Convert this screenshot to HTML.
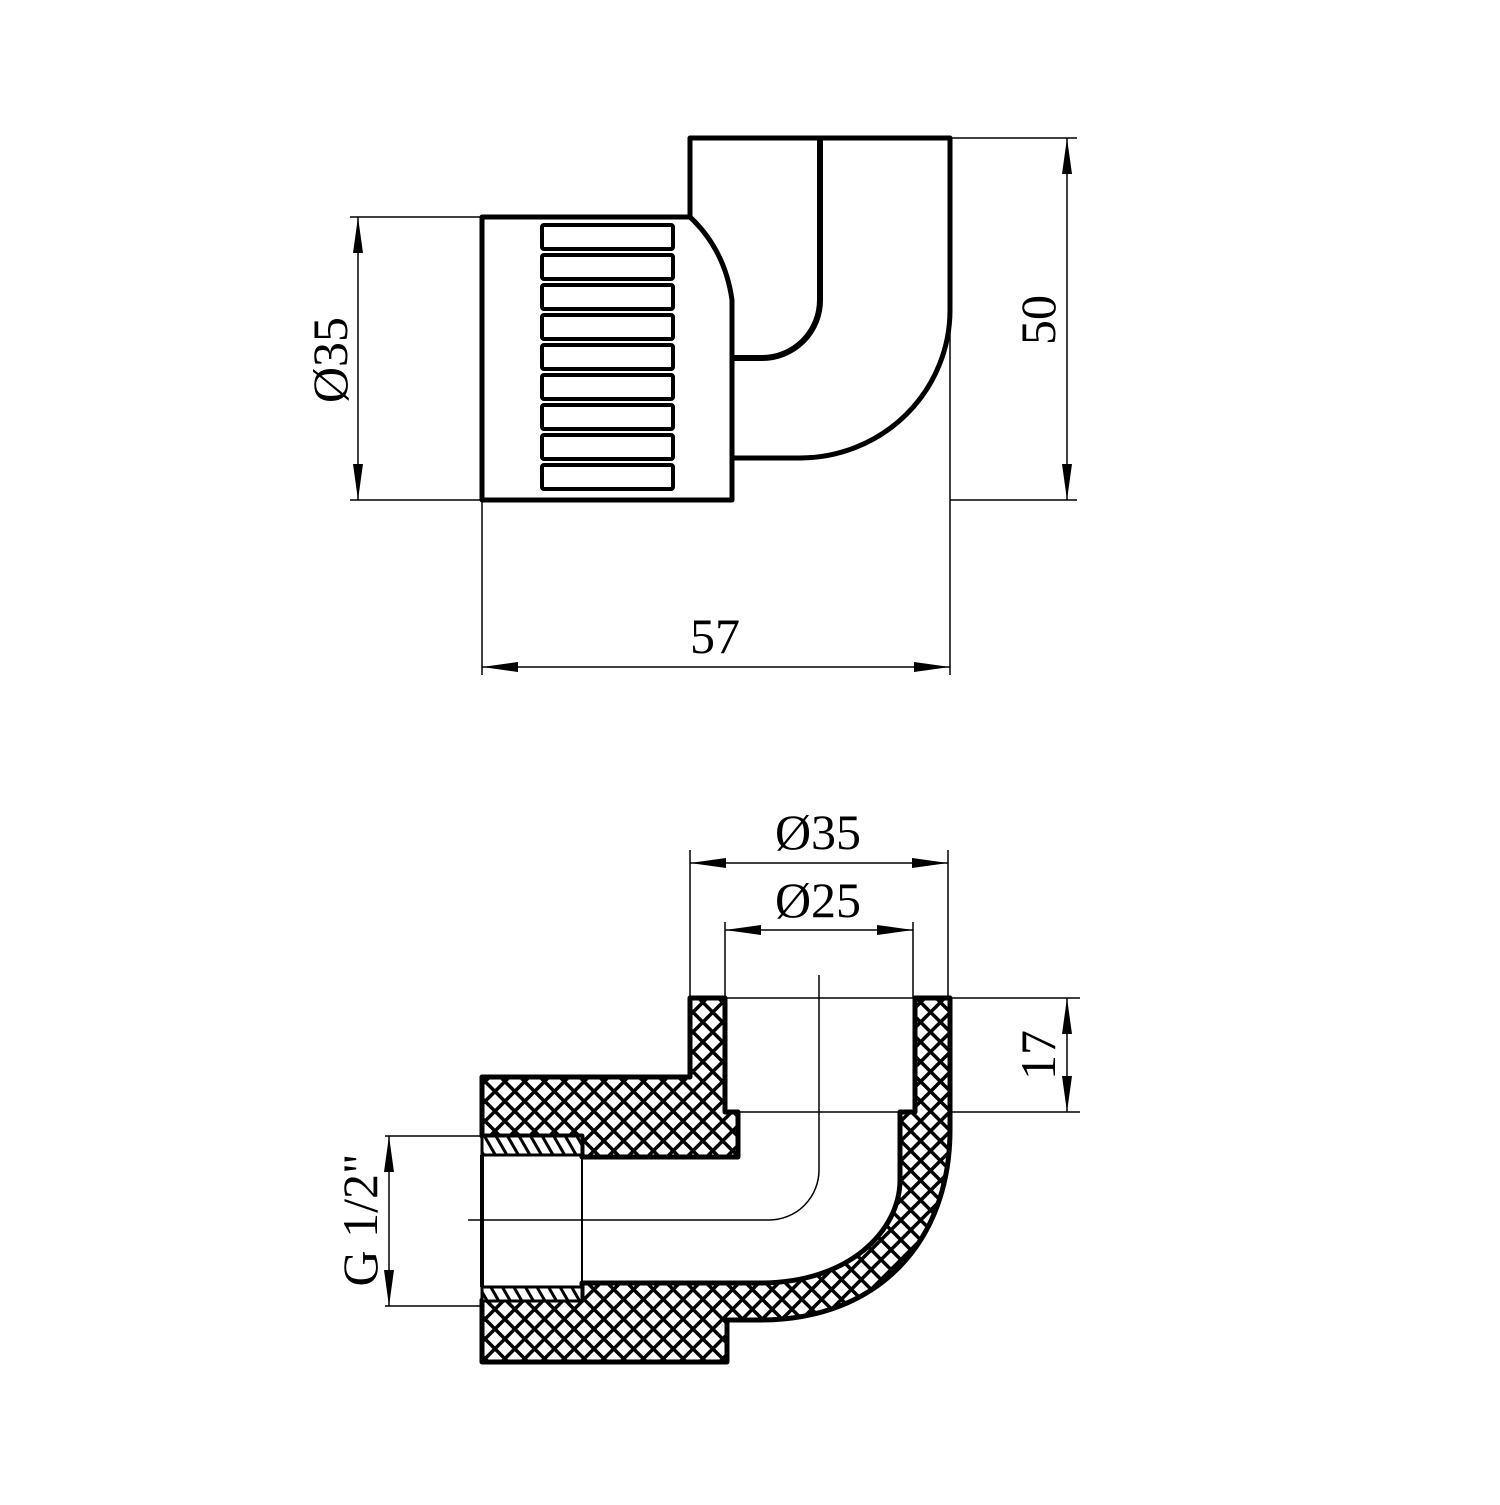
<!DOCTYPE html>
<html><head><style>html,body{margin:0;padding:0;background:#fff}</style></head><body>
<svg width="1500" height="1500" viewBox="0 0 1500 1500" xmlns="http://www.w3.org/2000/svg" font-family="Liberation Serif, serif">
<defs>
<pattern id="h" width="14" height="14" patternUnits="userSpaceOnUse" patternTransform="rotate(45)">
<rect width="14" height="14" fill="#fff"/>
<rect x="0" y="0" width="14" height="3.5" fill="#000"/>
<rect x="0" y="0" width="3.5" height="14" fill="#000"/>
</pattern>
<pattern id="t" width="10" height="10" patternUnits="userSpaceOnUse" patternTransform="rotate(-30)">
<rect width="10" height="10" fill="#fff"/>
<rect x="0" y="0" width="3" height="10" fill="#000"/>
</pattern>
<marker id="a" viewBox="0 0 36 10" refX="36" refY="5" markerWidth="36" markerHeight="10" markerUnits="userSpaceOnUse" orient="auto-start-reverse"><path d="M0,0 L36,5 L0,10 Z" fill="#000"/></marker>
</defs>

<!-- TOP VIEW -->
<g fill="none" stroke="#000" stroke-width="5" stroke-linejoin="round">
<path d="M690,217 V138 H950 V310 A150,148 0 0 1 800,458 H732"/>
<path d="M482,217 H690 Q725,250 732,300 V500 H482 Z"/>
<path d="M820,140 V300 A58,58 0 0 1 762,358 H732" stroke-width="6"/>
</g>
<g fill="none" stroke="#000" stroke-width="4">
<rect x="542" y="225" width="131" height="24" rx="2"/>
<rect x="542" y="255" width="131" height="24" rx="2"/>
<rect x="542" y="285" width="131" height="24" rx="2"/>
<rect x="542" y="315" width="131" height="24" rx="2"/>
<rect x="542" y="345" width="131" height="24" rx="2"/>
<rect x="542" y="375" width="131" height="24" rx="2"/>
<rect x="542" y="405" width="131" height="24" rx="2"/>
<rect x="542" y="435" width="131" height="24" rx="2"/>
<rect x="542" y="465" width="131" height="24" rx="2"/>
</g>
<g stroke="#000" stroke-width="1.5" fill="none">
<path d="M350,217 H482 M350,500 H482 M950,138 H1077 M950,500 H1077 M482,500 V675 M950,310 V675"/>
<line x1="358" y1="217" x2="358" y2="500" marker-start="url(#a)" marker-end="url(#a)"/>
<line x1="1067" y1="138" x2="1067" y2="500" marker-start="url(#a)" marker-end="url(#a)"/>
<line x1="482" y1="667" x2="950" y2="667" marker-start="url(#a)" marker-end="url(#a)"/>
</g>
<g font-size="50" text-anchor="middle" fill="#000">
<text x="715" y="653">57</text>
<text transform="translate(347,360) rotate(-90)">Ø35</text>
<text transform="translate(1055,320) rotate(-90)">50</text>
</g>

<!-- SECTION VIEW -->
<path fill="url(#h)" stroke="#000" stroke-width="5" stroke-linejoin="round"
d="M690,998 H725 V1112 H738 V1157 H582 V1136 H482 V1077 H690 Z"/>
<path fill="url(#h)" stroke="#000" stroke-width="5" stroke-linejoin="round"
d="M915,998 H950 V1130 C950,1240 880,1320 760,1320 H727 V1362 H482 V1300 H582 V1283 H760 C850,1283 900,1230 900,1180 V1112 H915 Z"/>
<rect x="482" y="1136" width="100" height="19" fill="url(#t)" stroke="#000" stroke-width="3"/>
<rect x="482" y="1287" width="100" height="14" fill="url(#t)" stroke="#000" stroke-width="3"/>
<g stroke="#000" fill="none">
<path d="M482,1155 V1287" stroke-width="4"/>
<path d="M582,1155 V1287" stroke-width="2"/>
<path d="M725,998 H915 M738,1112 H900" stroke-width="1.5"/>
<path d="M819,975 V1170 A50,50 0 0 1 769,1220 H468" stroke-width="1.5"/>
</g>
<g stroke="#000" stroke-width="1.5" fill="none">
<path d="M690,850 V998 M948,850 V998 M725,922 V998 M913,922 V998"/>
<path d="M950,998 H1080 M950,1112 H1080 M385,1136 H482 M385,1306 H482"/>
<line x1="690" y1="863" x2="948" y2="863" marker-start="url(#a)" marker-end="url(#a)"/>
<line x1="725" y1="930" x2="913" y2="930" marker-start="url(#a)" marker-end="url(#a)"/>
<line x1="1067" y1="998" x2="1067" y2="1112" marker-start="url(#a)" marker-end="url(#a)"/>
<line x1="389" y1="1136" x2="389" y2="1306" marker-start="url(#a)" marker-end="url(#a)"/>
</g>
<g font-size="50" text-anchor="middle" fill="#000">
<text x="818" y="849">Ø35</text>
<text x="818" y="917">Ø25</text>
<text transform="translate(1055,1055) rotate(-90)">17</text>
<text transform="translate(377,1220) rotate(-90)">G 1/2"</text>
</g>
</svg>
</body></html>
